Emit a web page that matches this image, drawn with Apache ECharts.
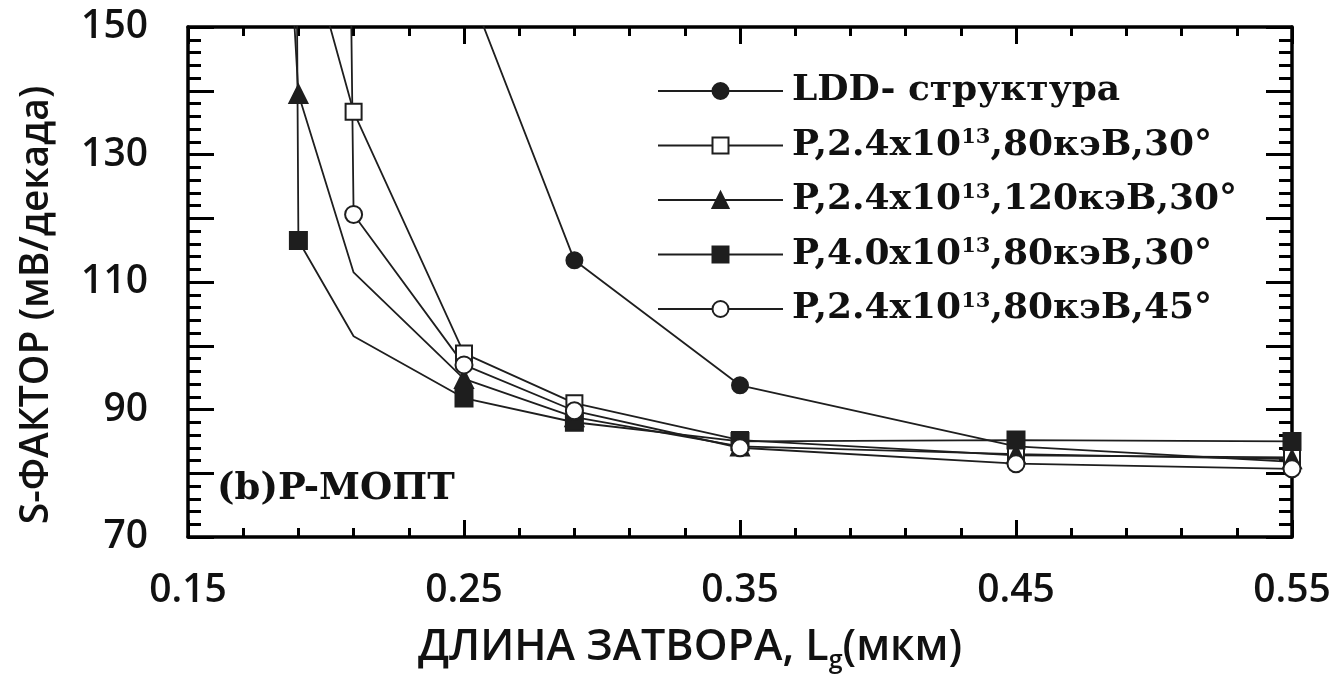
<!DOCTYPE html>
<html>
<head>
<meta charset="utf-8">
<script src="https://cdn.jsdelivr.net/npm/echarts@6/dist/echarts.min.js"></script>
<style>
  html, body { margin: 0; background: #fff; }
  #chart { width: 1337px; height: 678px; }
</style>
</head>
<body>
<div id="chart"></div>
<script>
// gate length, um  /  S-factor, mV/dec
const lddX = [0.25, 0.29, 0.35, 0.45, 0.55]
const lddY = [158, 113.4, 93.8, 84.2, 81.8]
const p80a30X = [0.19, 0.21, 0.25, 0.29, 0.35, 0.45, 0.55]
const p80a30Y = [168, 136.7, 98.8, 91.0, 85.2, 82.8, 82.5]
const p120a30X = [0.182, 0.19, 0.21, 0.25, 0.29, 0.35, 0.45, 0.55]
const p120a30Y = [200, 139.5, 111.5, 94.8, 88.8, 84.2, 83.0, 82.2]
const p40a30X = [0.186, 0.19, 0.21, 0.25, 0.29, 0.35, 0.45, 0.55]
const p40a30Y = [400, 116.5, 101.5, 91.8, 88.0, 85.0, 85.2, 85.0]
const p80a45X = [0.205, 0.21, 0.25, 0.29, 0.35, 0.45, 0.55]
const p80a45Y = [300, 120.6, 97.0, 89.8, 84.0, 81.5, 80.7]
// points drawn without a marker (kinks only)
const bareX = [0.21]

const seriesNames = [
  'LDD- структура',
  'P,2.4x10^13,80кэВ,30°',
  'P,2.4x10^13,120кэВ,30°',
  'P,4.0x10^13,80кэВ,30°',
  'P,2.4x10^13,80кэВ,45°'
]
const xLabels = ['0.15', '0.25', '0.35', '0.45', '0.55']
const yLabels = [70, 90, 110, 130, 150]
const yTitle = 'S-ФАКТОР (мВ/декада)'

const lineColor = '#1e1e1e'
const font = '"Open Sans", "Noto Sans", sans-serif'
const serif = '"DejaVu Serif", "Liberation Serif", serif'

function pairs (xs, ys, bare) {
  return xs.map(function (x, i) {
    let item = { value: [x, ys[i]] }
    if (bare && bareX.indexOf(x) !== -1) item.symbol = 'none'
    return item
  })
}

function makeLine (name, xs, ys, symbol, size, fill, bare) {
  return {
    name: name,
    type: 'line',
    data: pairs(xs, ys, bare),
    symbol: symbol,
    symbolSize: size,
    showAllSymbol: true,
    clip: true,
    lineStyle: { color: lineColor, width: 1.8 },
    itemStyle: { color: fill, borderColor: lineColor, borderWidth: 2 },
    emphasis: { disabled: true }
  }
}

function frameAxis (pos) {
  return {
    type: 'value',
    position: pos,
    min: 0.15,
    max: 0.55,
    interval: 0.1,
    axisLine: { show: true, onZero: false, lineStyle: { color: '#000', width: 3.5 } },
    axisTick: { show: true, inside: true, length: 17, lineStyle: { color: '#000', width: 3 } },
    minorTick: { show: true, splitNumber: 5, length: 9, lineStyle: { color: '#000', width: 3 } },
    splitLine: { show: false },
    axisLabel: { show: false }
  }
}

function frameYAxis (pos) {
  return {
    type: 'value',
    position: pos,
    min: 70,
    max: 150,
    interval: 10,
    axisLine: { show: true, onZero: false, lineStyle: { color: '#000', width: 3.5 } },
    axisTick: { show: true, inside: true, length: 26, lineStyle: { color: '#000', width: 3 } },
    minorTick: { show: true, splitNumber: 5, length: 13, lineStyle: { color: '#000', width: 3 } },
    splitLine: { show: false },
    axisLabel: { show: false }
  }
}

let xBottom = frameAxis('bottom')
xBottom.axisLabel = {
  show: true,
  margin: 34,
  color: '#111',
  fontFamily: font,
  fontWeight: 600,
  fontSize: 39,
  formatter: function (v) {
    let s = v.toFixed(2)
    return xLabels.indexOf(s) !== -1 ? s : ''
  }
}
xBottom.name = '{a|ДЛИНА ЗАТВОРА, L}{s|g}{a|(мкм)}'
xBottom.nameLocation = 'middle'
xBottom.nameGap = 86
xBottom.nameTextStyle = {
  padding: [0, 100, 0, 0],
  rich: {
    a: { fontFamily: font, fontWeight: 600, fontSize: 43, color: '#111', lineHeight: 50 },
    s: { fontFamily: font, fontWeight: 600, fontSize: 25, color: '#111', lineHeight: 50, verticalAlign: 'bottom', padding: [16, 0, 0, 0] }
  }
}

let yLeft = frameYAxis('left')
yLeft.axisLabel = {
  show: true,
  margin: 40,
  color: '#111',
  fontFamily: font,
  fontWeight: 600,
  fontSize: 39,
  formatter: function (v) {
    return yLabels.indexOf(Math.round(v)) !== -1 ? String(Math.round(v)) : ''
  }
}

let sup = { fontFamily: serif, fontWeight: 'bold', fontSize: 21, color: '#111', lineHeight: 22, verticalAlign: 'top' }
let legendText = { fontFamily: serif, fontWeight: 'bold', fontSize: 36, color: '#111', lineHeight: 36 }

let chart = echarts.init(document.getElementById('chart'))
chart.setOption({
  backgroundColor: '#fff',
  animation: false,
  title: {
    text: '(b)P-МОПТ',
    left: 212,
    top: 466,
    textStyle: { fontFamily: serif, fontWeight: 'bold', fontSize: 37, color: '#111' }
  },
  graphic: [{
    type: 'text',
    x: 37,
    y: 305,
    rotation: Math.PI / 2,
    style: {
      text: yTitle,
      align: 'center',
      verticalAlign: 'middle',
      fill: '#111',
      font: '600 39px ' + font
    }
  }],
  grid: { left: 188, right: 45, top: 27, bottom: 130, containLabel: false },
  legend: {
    orient: 'vertical',
    left: 652,
    top: 68,
    itemWidth: 125,
    itemHeight: 20,
    itemGap: 18.5,
    selectedMode: false,
    data: seriesNames,
    textStyle: { rich: { b: legendText, sup: sup }, padding: [0, 0, 0, 4] },
    formatter: function (name) {
      let parts = name.split('^13')
      if (parts.length === 1) return '{b|' + name + '}'
      return '{b|' + parts[0] + '}{sup|13}{b|' + parts[1] + '}'
    }
  },
  xAxis: [xBottom, frameAxis('top')],
  yAxis: [yLeft, frameYAxis('right')],
  series: [
    makeLine(seriesNames[0], lddX, lddY, 'circle', 16, lineColor, false),
    makeLine(seriesNames[1], p80a30X, p80a30Y, 'rect', 16, '#fff', false),
    makeLine(seriesNames[2], p120a30X, p120a30Y, 'triangle', 18, lineColor, true),
    makeLine(seriesNames[3], p40a30X, p40a30Y, 'rect', 17, lineColor, true),
    makeLine(seriesNames[4], p80a45X, p80a45Y, 'circle', 17, '#fff', false)
  ]
})
</script>
</body>
</html>
